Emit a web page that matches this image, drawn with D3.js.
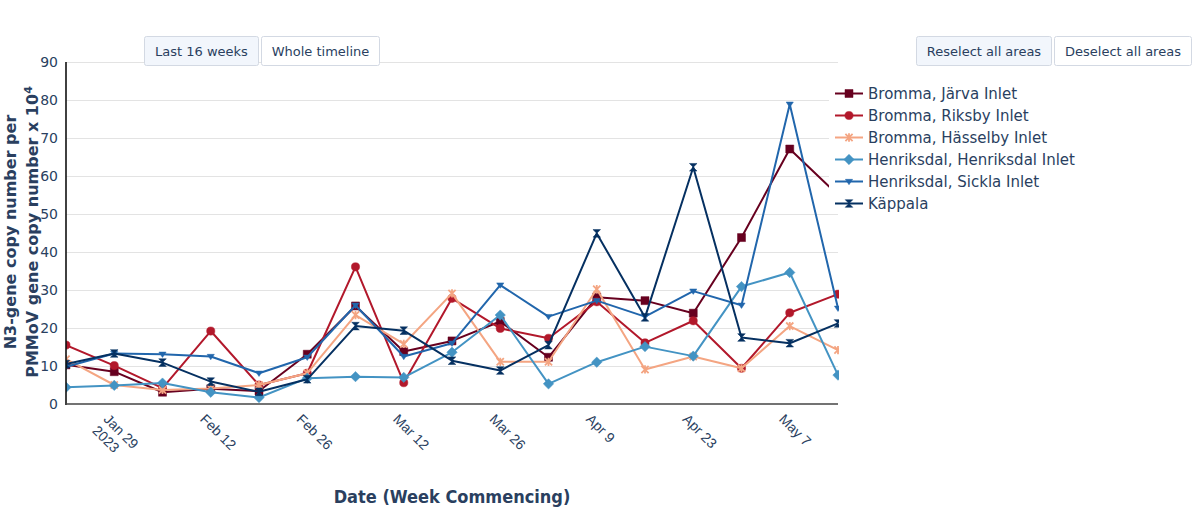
<!DOCTYPE html>
<html>
<head>
<meta charset="utf-8">
<script src="https://cdn.jsdelivr.net/npm/d3@7"></script>
<style>
  html, body { margin: 0; padding: 0; background: #fff; }
  svg { display: block; font-family: "DejaVu Sans", Verdana, sans-serif; }
</style>
</head>
<body>
<svg id="chart" width="1200" height="509"></svg>
<script>
// ---------- data ----------
const dates = ["2023-01-23","2023-01-30","2023-02-06","2023-02-13","2023-02-20","2023-02-27",
  "2023-03-06","2023-03-13","2023-03-20","2023-03-27","2023-04-03","2023-04-10","2023-04-17",
  "2023-04-24","2023-05-01","2023-05-08","2023-05-15"];
const seriesNames = ["Bromma, Järva Inlet","Bromma, Riksby Inlet","Bromma, Hässelby Inlet",
  "Henriksdal, Henriksdal Inlet","Henriksdal, Sickla Inlet","Käppala"];
const jarva      = [10.3, 8.5, 3.1, 4.0, 3.4, 13.1, 25.8, 13.8, 16.6, 21.7, 12.3, 28.1, 27.2, 23.9, 43.8, 67.1, 55.0];
const riksby     = [15.5, 10.1, 4.2, 19.2, 5.0, 8.1, 36.1, 5.6, 27.8, 19.9, 17.3, 26.9, 16.1, 21.9, 9.4, 24.0, 28.9];
const hasselby   = [11.8, 5.0, 3.7, 4.1, 5.0, 8.1, 23.4, 15.8, 29.1, 11.1, 11.1, 30.2, 9.1, 12.5, 9.4, 20.5, 14.2];
const henriksdal = [4.4, 4.9, 5.5, 3.1, 1.7, 6.8, 7.2, 7.0, 13.6, 23.4, 5.3, 11.0, 15.1, 12.6, 30.9, 34.6, 7.6];
const sickla     = [9.8, 13.3, 13.1, 12.5, 8.1, 12.3, 26.0, 12.5, 16.0, 31.3, 23.0, 27.2, 23.0, 29.7, 26.0, 78.9, 25.2];
const kappala    = [10.5, 13.3, 10.9, 5.9, 3.2, 6.5, 20.5, 19.3, 11.4, 8.8, 15.5, 44.9, 22.8, 62.3, 17.5, 16.0, 21.2];
const xTickDates  = ["2023-01-29","2023-02-12","2023-02-26","2023-03-12","2023-03-26","2023-04-09","2023-04-23","2023-05-07"];
const xTickLabels = [["Jan 29","2023"],["Feb 12"],["Feb 26"],["Mar 12"],["Mar 26"],["Apr 9"],["Apr 23"],["May 7"]];
const yTicks = [0,10,20,30,40,50,60,70,80,90];
const buttonsLeft  = ["Last 16 weeks","Whole timeline"];
const buttonsRight = ["Reselect all areas","Deselect all areas"];

// ---------- styling ----------
const colors  = ["#67001f","#b2182b","#f4a582","#4393c3","#2166ac","#053061"];
const symbols = ["square","circle","x","diamond","triangle","hourglass"];
const textColor = "#2a3f5f";

const parse = d3.utcParse("%Y-%m-%d");
const valuesAll = [jarva, riksby, hasselby, henriksdal, sickla, kappala];
const series = seriesNames.map((name, i) => ({
  name, color: colors[i], symbol: symbols[i],
  points: dates.map((d, j) => ({date: parse(d), value: valuesAll[i][j]}))
}));

const L = 66, R = 838, T = 62, B = 404;
const svg = d3.select("#chart");
const x = d3.scaleUtc().domain([parse(dates[0]), parse(dates[dates.length-1])]).range([L, R]);
const y = d3.scaleLinear().domain([0, 90]).range([B, T]);

// grid
const grid = svg.append("g").attr("transform", `translate(${L},0)`)
  .call(d3.axisLeft(y).tickValues(yTicks.filter(v => v > 0)).tickSize(-(R - L)).tickFormat(""));
grid.select(".domain").remove();
grid.selectAll("line").attr("stroke", "#e3e3e3").attr("stroke-width", 1.2);

// y tick labels
const yAxis = svg.append("g").attr("transform", `translate(${L},0)`)
  .call(d3.axisLeft(y).tickValues(yTicks).tickSize(0).tickPadding(8));
yAxis.select(".domain").remove();
yAxis.selectAll("text").attr("fill", textColor).style("font-size", "14px")
  .style("font-family", "DejaVu Sans, sans-serif");

// x axis
const xAxis = svg.append("g").attr("transform", `translate(0,${B})`)
  .call(d3.axisBottom(x).tickValues(xTickDates.map(parse)).tickSize(0).tickFormat(""));
xAxis.select(".domain").remove();
xAxis.selectAll(".tick").each(function(d, i) {
  const t = d3.select(this).append("text")
    .attr("transform", "translate(-5,16) rotate(45)")
    .attr("text-anchor", "start").attr("fill", textColor)
    .style("font-size", "14px").attr("dy", "0.75em");
  xTickLabels[i].forEach((s, k) => {
    t.append("tspan").attr("x", 0).attr("dy", k === 0 ? 0 : "1.15em").text(s);
  });
});

// clip
svg.append("clipPath").attr("id", "plotclip").append("rect")
  .attr("x", L).attr("y", T - 10).attr("width", R - L + 1).attr("height", B - T + 10);

function symbolPath(sym, s) {
  switch (sym) {
    case "square": return `M${-s},${-s}H${s}V${s}H${-s}Z`;
    case "circle": return d3.symbol(d3.symbolCircle, Math.PI * s * s * 1.05)();
    case "diamond": { const a = s * 1.3; return `M0,${-a}L${a},0L0,${a}L${-a},0Z`; }
    case "triangle": { const a = s * 0.9; return `M${-a},${-a * 0.6}H${a}L0,${a * 0.9}Z`; }
    case "hourglass": { const a = s * 0.95; return `M${-a},${-a}H${a}L${-a},${a}H${a}Z`; }
    case "x": { const a = s * 0.9;
      return `M${-a},${-a}L${a},${a}M${a},${-a}L${-a},${a}M0,${-a*1.15}V${a*1.15}`; }
  }
}

const plot = svg.append("g").attr("clip-path", "url(#plotclip)");
const line = d3.line().x(d => x(d.date)).y(d => y(d.value));
series.forEach(s => {
  const g = plot.append("g");
  g.append("path").datum(s.points).attr("d", line)
    .attr("fill", "none").attr("stroke", s.color).attr("stroke-width", 2).attr("stroke-linejoin", "round");
  g.selectAll("path.m").data(s.points).enter().append("path").attr("class", "m")
    .attr("transform", d => `translate(${x(d.date)},${y(d.value)})`)
    .attr("d", symbolPath(s.symbol, 4))
    .attr("fill", s.symbol === "x" ? "none" : s.color)
    .attr("stroke", s.color).attr("stroke-width", s.symbol === "x" ? 1.8 : 0.5);
});

// axis lines
svg.append("line").attr("x1", L).attr("x2", L).attr("y1", T).attr("y2", B + 1)
  .attr("stroke", "#111").attr("stroke-width", 1.6);
svg.append("line").attr("x1", L).attr("x2", R).attr("y1", B).attr("y2", B)
  .attr("stroke", "#444").attr("stroke-width", 1.6);

// axis titles
const yt = svg.append("text").attr("transform", `translate(16,232) rotate(-90)`)
  .attr("text-anchor", "middle").attr("fill", textColor)
  .style("font-size", "16px").style("font-weight", "bold");
yt.append("tspan").attr("x", 0).attr("dy", 0).text("N3-gene copy number per");
const yt2 = svg.append("text").attr("transform", `translate(38,232) rotate(-90)`)
  .attr("text-anchor", "middle").attr("fill", textColor)
  .style("font-size", "16px").style("font-weight", "bold");
yt2.append("tspan").text("PMMoV gene copy number x 10");
yt2.append("tspan").attr("dy", "-0.55em").style("font-size", "11px").text("4");

svg.append("text").attr("x", (L + R) / 2).attr("y", 503).attr("text-anchor", "middle")
  .attr("fill", textColor).style("font-size", "18px").style("font-weight", "bold")
  .style("font-family", "'DejaVu Sans Condensed', 'DejaVu Sans', sans-serif")
  .style("font-stretch", "condensed")
  .text("Date (Week Commencing)");

// legend
svg.append("rect").attr("x", 829).attr("y", 82).attr("width", 256).attr("height", 131).attr("fill", "#fff");
const lg = svg.append("g");
series.forEach((s, i) => {
  const cy = 93.5 + i * 22;
  const g = lg.append("g").attr("transform", `translate(0,${cy})`);
  g.append("line").attr("x1", 835).attr("x2", 863).attr("stroke", s.color).attr("stroke-width", 2);
  g.append("path").attr("transform", "translate(849,0)").attr("d", symbolPath(s.symbol, 4))
    .attr("fill", s.symbol === "x" ? "none" : s.color)
    .attr("stroke", s.color).attr("stroke-width", s.symbol === "x" ? 1.8 : 0.5);
  g.append("text").attr("x", 868).attr("dy", "0.36em").attr("fill", textColor)
    .style("font-size", "15px").text(s.name);
});

// buttons
function drawButtons(labels, x0, widths, activeIndex) {
  let cx = x0;
  labels.forEach((lab, i) => {
    const w = widths[i];
    svg.append("rect").attr("x", cx + 0.5).attr("y", 36.5).attr("width", w).attr("height", 29)
      .attr("rx", 2).attr("fill", i === activeIndex ? "#f2f6fc" : "#fff")
      .attr("stroke", "#d3d9e3").attr("stroke-width", 1);
    svg.append("text").attr("x", cx + w / 2 + 0.5).attr("y", 51).attr("dy", "0.36em")
      .attr("text-anchor", "middle").attr("fill", textColor).style("font-size", "13px").text(lab);
    cx += w + 3;
  });
}
drawButtons(buttonsLeft, 144, [114, 118], 0);
drawButtons(buttonsRight, 916, [135, 137], 0);
</script>
</body>
</html>
